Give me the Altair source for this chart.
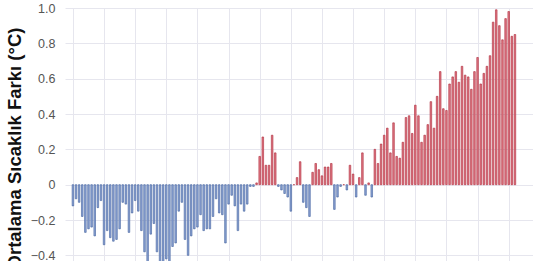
import altair as alt
import pandas as pd

years = list(range(1880, 2023))
anomalies = [
    -0.12, -0.08, -0.10, -0.18, -0.27, -0.25, -0.24, -0.29, -0.13, -0.09,
    -0.34, -0.26, -0.30, -0.32, -0.31, -0.25, -0.10, -0.11, -0.27, -0.16,
    -0.09, -0.15, -0.26, -0.38, -0.45, -0.28, -0.22, -0.38, -0.44, -0.46,
    -0.42, -0.44, -0.35, -0.33, -0.15, -0.10, -0.31, -0.40, -0.29, -0.25,
    -0.24, -0.17, -0.26, -0.25, -0.25, -0.18, -0.08, -0.16, -0.17, -0.33,
    -0.11, -0.06, -0.12, -0.26, -0.11, -0.15, -0.11, -0.01, -0.01, 0.01,
    0.16, 0.27, 0.11, 0.11, 0.28, 0.18, -0.01, -0.03, -0.05, -0.07,
    -0.15, 0.00, 0.04, 0.13, -0.10, -0.13, -0.18, 0.07, 0.12, 0.085,
    0.05, 0.10, 0.10, 0.12, -0.14, -0.07, -0.01, 0.00, -0.03, 0.11,
    0.06, -0.07, 0.04, 0.18, -0.06, 0.01, -0.07, 0.20, 0.12, 0.23,
    0.28, 0.32, 0.18, 0.35, 0.16, 0.15, 0.24, 0.38, 0.39, 0.29,
    0.45, 0.39, 0.24, 0.28, 0.34, 0.47, 0.32, 0.50, 0.64, 0.43,
    0.42, 0.57, 0.61, 0.64, 0.58, 0.67, 0.62, 0.61, 0.54, 0.64,
    0.72, 0.57, 0.63, 0.67, 0.73, 0.92, 0.99, 0.90, 0.82, 0.94,
    0.98, 0.84, 0.85,
]
y_ticks = [-0.4, -0.2, 0.0, 0.2, 0.4, 0.6, 0.8, 1.0]
x_grid_years = list(range(1880, 2030, 10))
y_title = "Ortalama Sıcaklık Farkı (°C)"

df = pd.DataFrame({"year": years, "anomaly": anomalies})
df["sign"] = ["pos" if v >= 0 else "neg" for v in anomalies]

grid_color = "#e6e6ee"

chart = (
    alt.Chart(df)
    .mark_bar(size=1.6, clip=True, strokeWidth=0.6)
    .encode(
        x=alt.X(
            "year:Q",
            scale=alt.Scale(domain=[1879.06, 2026.2], nice=False, zero=False),
            axis=alt.Axis(
                values=x_grid_years,
                labels=False,
                ticks=False,
                domain=False,
                title=None,
                grid=True,
                gridColor=grid_color,
                gridWidth=1,
            ),
        ),
        y=alt.Y(
            "anomaly:Q",
            scale=alt.Scale(domain=[-0.432, 1.0], nice=False),
            axis=alt.Axis(
                values=y_ticks,
                labelExpr="datum.value == 0 ? '0' : format(datum.value, '.1f')",
                labelFont="Liberation Sans",
                labelFontSize=12.5,
                labelColor="#555555",
                labelPadding=10,
                ticks=False,
                domain=False,
                grid=True,
                gridColor=grid_color,
                gridWidth=1,
                title=y_title,
                titleFont="Liberation Sans",
                titleFontSize=18.5,
                titleFontWeight="bold",
                titleColor="#111111",
                titleAngle=270,
                titleBaseline="alphabetic",
                titleAlign="center",
                titleX=-45,
                titleY=140,
            ),
        ),
        fill=alt.Fill(
            "sign:N",
            scale=alt.Scale(domain=["neg", "pos"], range=["#8ea5d5", "#e07a86"]),
            legend=None,
        ),
        stroke=alt.Stroke(
            "sign:N",
            scale=alt.Scale(domain=["neg", "pos"], range=["#40609c", "#ad2738"]),
            legend=None,
        ),
    )
    .properties(
        width=468,
        height=253,
        padding={"left": 65, "top": 8, "right": 0, "bottom": 0},
        autosize=alt.AutoSizeParams(type="none"),
        background="white",
    )
    .configure_view(stroke=None)
)

chart.save("out.html", embed_options={"renderer": "svg", "actions": False})
